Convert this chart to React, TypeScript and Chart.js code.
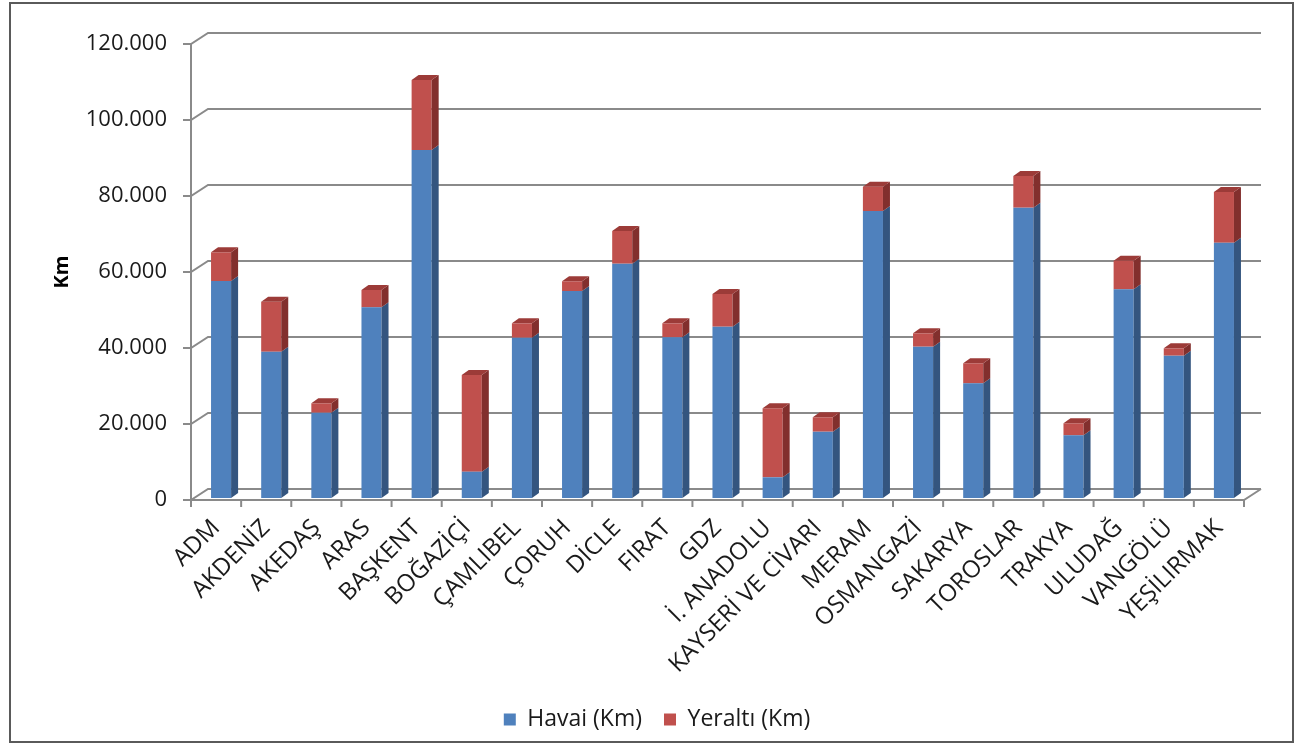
import React, { useEffect, useRef } from 'react';
import { Chart, registerables } from 'chart.js';

Chart.register(...registerables);

const categories = [
  'ADM', 'AKDENİZ', 'AKEDAŞ', 'ARAS', 'BAŞKENT', 'BOĞAZİÇİ', 'ÇAMLIBEL', 'ÇORUH', 'DİCLE', 'FIRAT', 'GDZ',
  'İ. ANADOLU', 'KAYSERİ VE CİVARI', 'MERAM', 'OSMANGAZİ', 'SAKARYA', 'TOROSLAR', 'TRAKYA', 'ULUDAĞ', 'VANGÖLÜ', 'YEŞİLIRMAK',
];
const havai = [57100, 38500, 22450, 50180, 91580, 6920, 42180, 54470, 61660, 42290, 45080, 5450, 17450, 75530, 39820, 30180, 76400, 16500, 54920, 37450, 67180];
const yeralti = [7560, 13160, 2470, 4560, 18420, 25450, 3790, 2560, 8600, 3680, 8600, 18160, 3790, 6390, 3520, 5270, 8340, 3160, 7530, 1940, 13350];
const yTicks = [0, 20000, 40000, 60000, 80000, 100000, 120000];
const seriesNames = ['Havai (Km)', 'Yeraltı (Km)'];
const frontColors = ['#4F81BD', '#C0504D'];
const sideColors = ['#34557F', '#822F2D'];
const topColors = ['#5B8CC6', '#9C3B38'];

const FONT = "'Open Sans', 'Noto Sans', sans-serif";
const WALL_DX = 17;
const WALL_DY = 11;
const BAR_DX = 7;
const BAR_DY = 5;
const BAR_SHIFT_X = 5;
const BAR_SHIFT_Y = -2;
const GRID = '#8a8a8a';

const fmt = (v: number) => String(v).replace(/\B(?=(\d{3})+(?!\d))/g, '.');

const wall3d = {
  id: 'wall3d',
  beforeDatasetsDraw(chart: any) {
    const { ctx, chartArea, scales } = chart;
    const { left, right, bottom } = chartArea;
    const y = scales.y;
    ctx.save();
    ctx.strokeStyle = GRID;
    ctx.lineWidth = 2;
    ctx.lineCap = 'butt';
    yTicks.forEach((v) => {
      const yy = y.getPixelForValue(v);
      ctx.beginPath();
      ctx.moveTo(left - 8, yy);
      ctx.lineTo(left, yy);
      ctx.lineTo(left + WALL_DX, yy - WALL_DY);
      ctx.lineTo(right + WALL_DX, yy - WALL_DY);
      ctx.stroke();
    });
    // front vertical axis
    ctx.beginPath();
    ctx.moveTo(left, y.getPixelForValue(yTicks[yTicks.length - 1]));
    ctx.lineTo(left, bottom);
    ctx.stroke();
    // floor front edge + right diagonal
    ctx.beginPath();
    ctx.moveTo(left, bottom);
    ctx.lineTo(right, bottom);
    ctx.lineTo(right + WALL_DX, bottom - WALL_DY);
    ctx.stroke();
    // category ticks
    const n = categories.length;
    for (let i = 0; i <= n; i++) {
      const xx = left + (i * (right - left)) / n;
      ctx.beginPath();
      ctx.moveTo(xx, bottom);
      ctx.lineTo(xx, bottom + 7);
      ctx.stroke();
    }
    ctx.restore();
    ctx.save();
    ctx.translate(BAR_SHIFT_X, BAR_SHIFT_Y);
  },
  afterDatasetsDraw(chart: any) {
    const { ctx } = chart;
    const nds = chart.data.datasets.length;
    chart.data.datasets.forEach((_: any, di: number) => {
      const meta = chart.getDatasetMeta(di);
      meta.data.forEach((el: any) => {
        const { x, y, base, width } = el.getProps(['x', 'y', 'base', 'width'], true);
        const l = x - width / 2;
        const r = x + width / 2;
        const t = Math.min(y, base);
        const b = Math.max(y, base);
        ctx.fillStyle = sideColors[di];
        ctx.beginPath();
        ctx.moveTo(r, t);
        ctx.lineTo(r + BAR_DX, t - BAR_DY);
        ctx.lineTo(r + BAR_DX, b - BAR_DY);
        ctx.lineTo(r, b);
        ctx.closePath();
        ctx.fill();
        if (di === nds - 1) {
          ctx.fillStyle = topColors[di];
          ctx.beginPath();
          ctx.moveTo(l, t);
          ctx.lineTo(l + BAR_DX, t - BAR_DY);
          ctx.lineTo(r + BAR_DX, t - BAR_DY);
          ctx.lineTo(r, t);
          ctx.closePath();
          ctx.fill();
        }
      });
    });
    ctx.restore();
  },
};

export default function App() {
  const ref = useRef<HTMLCanvasElement | null>(null);

  useEffect(() => {
    if (!ref.current) return;
    const chart = new Chart(ref.current, {
      type: 'bar',
      data: {
        labels: categories,
        datasets: [
          { label: seriesNames[0], data: havai, backgroundColor: frontColors[0], borderWidth: 0, clip: false as any },
          { label: seriesNames[1], data: yeralti, backgroundColor: frontColors[1], borderWidth: 0, clip: false as any },
        ],
      },
      options: {
        responsive: false,
        animation: false,
        layout: { padding: { top: 40, left: 59, right: 48, bottom: 0 } },
        datasets: { bar: { barPercentage: 1, categoryPercentage: 0.4 } },
        plugins: {
          legend: {
            position: 'bottom',
            labels: {
              boxWidth: 12,
              boxHeight: 12,
              padding: 22,
              color: '#1a1a1a',
              font: { family: FONT, size: 23 },
            },
          },
          tooltip: { enabled: false },
        },
        scales: {
          x: {
            stacked: true,
            grid: { display: false, drawTicks: false },
            border: { display: false },
            ticks: {
              autoSkip: false,
              maxRotation: 45,
              minRotation: 45,
              padding: 14,
              color: '#1a1a1a',
              font: { family: FONT, size: 24 },
            },
            afterFit: (scale: any) => {
              const c = scale.chart;
              const lh = c.legend ? c.legend.height : 56;
              scale.height = c.height - lh - 496;
            },
          },
          y: {
            stacked: true,
            min: 0,
            max: 120000,
            grid: { display: false, drawTicks: false },
            border: { display: false },
            ticks: {
              stepSize: 20000,
              padding: 24,
              color: '#1a1a1a',
              font: { family: FONT, size: 22 },
              callback: (v: any) => fmt(Number(v)),
            },
            title: {
              display: true,
              text: 'Km',
              color: '#000',
              font: { family: FONT, size: 20, weight: 'bold' },
              padding: { top: -20, bottom: 0 },
            },
            afterFit: (scale: any) => {
              scale.width = 121;
            },
          },
        },
      },
      plugins: [wall3d],
    });
    return () => chart.destroy();
  }, []);

  return (
    <div
      style={{
        position: 'absolute',
        left: 9,
        top: 2,
        width: 1285,
        height: 741,
        border: '2px solid #5a5a5a',
        boxSizing: 'border-box',
        background: '#fff',
      }}
    >
      <canvas ref={ref} width={1281} height={737} style={{ display: 'block', width: 1281, height: 737 }} />
    </div>
  );
}
